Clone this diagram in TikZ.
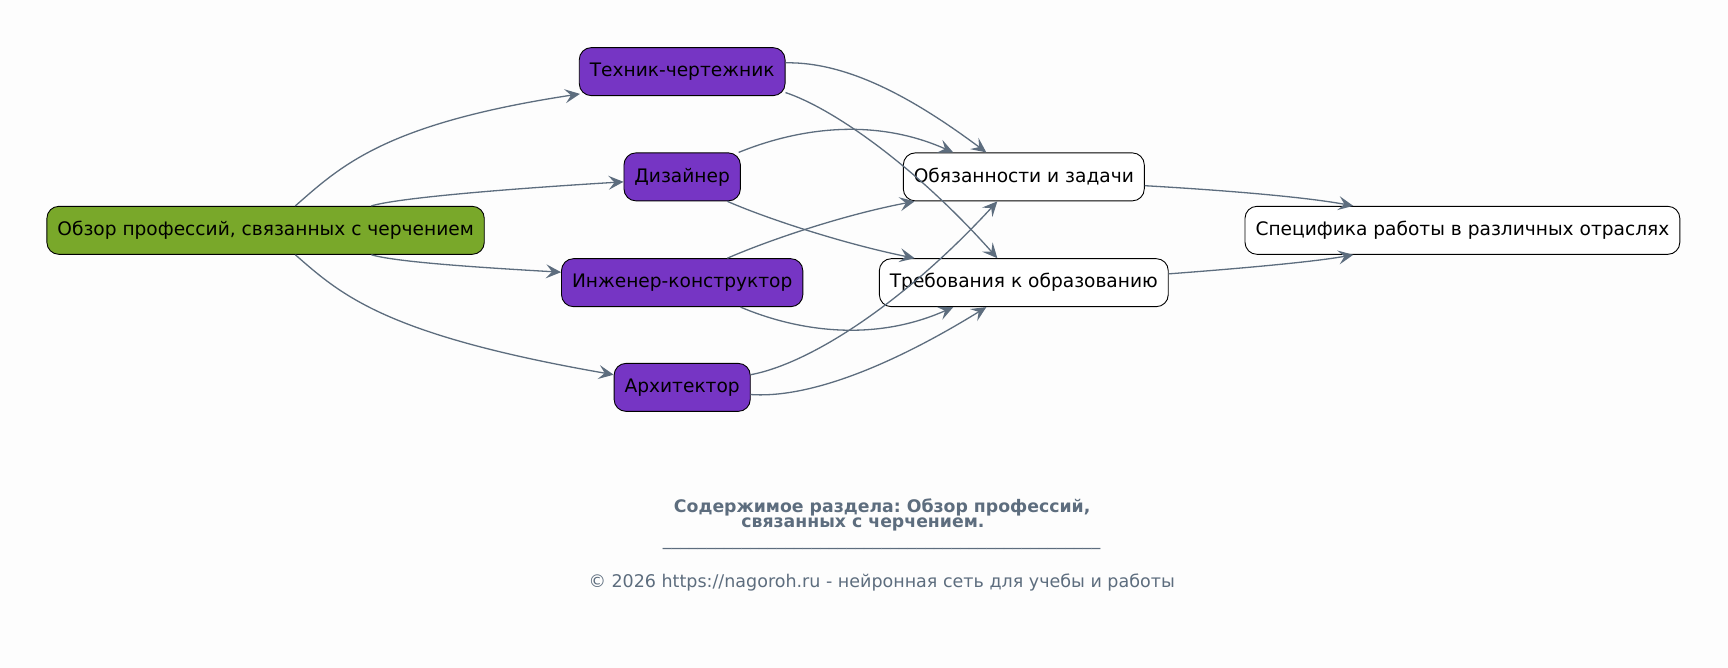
\documentclass[tikz,border=0pt]{standalone}
\usepackage{fontspec}
\setmainfont{DejaVu Sans}
\usetikzlibrary{arrows.meta,calc}
\definecolor{edgec}{RGB}{93,109,126}
\definecolor{greenc}{RGB}{121,168,42}
\definecolor{purplec}{RGB}{118,53,196}
\definecolor{bgc}{RGB}{253,253,253}
\frenchspacing
\tikzset{
  box/.style={draw=black, line width=0.9pt, rounded corners=12pt, minimum height=48pt,
    inner xsep=10.5pt, font=\fontsize{18.6}{20}\selectfont, text=black},
  rootbox/.style={box, fill=greenc},
  profbox/.style={box, fill=purplec},
  whitebox/.style={box, fill=white},
  conn/.style={draw=edgec, line width=1.3pt, -{Stealth[length=15pt, width=14pt, inset=6pt]}},
  foot/.style={text=edgec, font=\fontsize{17.5}{19}\selectfont, inner sep=0pt},
}
\begin{document}
\begin{tikzpicture}[x=1.102pt, y=-1.102pt]
\fill[bgc] (0,0) rectangle (1568,606);
\useasboundingbox (0,0) rectangle (1568,606);

\node[rootbox] (root) at (241,209) {Обзор профессий, связанных с черчением};
\node[profbox] (T) at (619,65) {Техник-чертежник};
\node[profbox] (D) at (619,160.5) {Дизайнер};
\node[profbox] (I) at (619,256.5) {Инженер-конструктор};
\node[profbox] (A) at (619,351.5) {Архитектор};
\node[whitebox] (O) at (929,160.5) {Обязанности и задачи};
\node[whitebox] (Tr) at (929,256.5) {Требования к образованию};
\node[whitebox] (S) at (1327,209) {Специфика работы в различных отраслях};

% root -> professions
\draw[conn] ($(root.north)+(27,0)$) .. controls (310,150) and (350,112) .. ($(T.south west)+(1,-2)$);
\draw[conn] ($(root.north)+(96,0)$) .. controls (360,180) and (450,172) .. ($(D.west)+(0,4.5)$);
\draw[conn] ($(root.south)+(96,0)$) .. controls (360,238) and (440,243) .. ($(I.west)+(0,-9.5)$);
\draw[conn] ($(root.south)+(27,0)$) .. controls (310,268) and (350,304) .. ($(A.west)+(0,-11.5)$);

% professions -> O / Tr
\draw[conn] ($(T.east)+(0,-8)$) .. controls (770,56) and (830,90) .. ($(O.north)+(-34,0)$);
\draw[conn] ($(T.east)+(0,19)$) .. controls (755,98) and (830,150) .. ($(Tr.north)+(-24,0)$);
\draw[conn] ($(D.north east)+(-2,0)$) .. controls (720,118) and (790,105) .. ($(O.north)+(-64,0)$);
\draw[conn] ($(D.south)+(41,0)$) .. controls (690,196) and (760,220) .. ($(Tr.north)+(-99,0)$);
\draw[conn] ($(I.north)+(41,0)$) .. controls (690,221) and (760,196) .. ($(O.south)+(-99,0)$);
\draw[conn] ($(I.south)+(53,0)$) .. controls (720,299) and (790,312) .. ($(Tr.south)+(-64,0)$);
\draw[conn] ($(A.east)+(0,-11.5)$) .. controls (735,330) and (820,275) .. ($(O.south)+(-24,0)$);
\draw[conn] ($(A.east)+(0,6.5)$) .. controls (740,362) and (820,325) .. ($(Tr.south)+(-34,0)$);

% -> S
\draw[conn] ($(O.east)+(0,8)$) .. controls (1100,172) and (1180,178) .. ($(S.north)+(-99,0)$);
\draw[conn] ($(Tr.east)+(0,-8)$) .. controls (1120,244) and (1190,238) .. ($(S.south)+(-99,0)$);

% footer
\node[foot, font=\fontsize{17.3}{19}\selectfont\bfseries] (t1) at (800.5,460) {Содержимое раздела: Обзор профессий,};
\node[foot, font=\fontsize{17.3}{19}\selectfont\bfseries] (t2) at (783,476) {связанных с черчением.};
\node[foot] (ul) at (800,497) {\_\_\_\_\_\_\_\_\_\_\_\_\_\_\_\_\_\_\_\_\_\_\_\_\_\_\_\_\_\_\_\_\_\_\_\_\_\_\_\_\_\_\_\_\_\_\_\_\_\_};
\node[foot] (copy) at (800,529) {© 2026 https://nagoroh.ru - нейронная сеть для учебы и работы};
\end{tikzpicture}
\end{document}
